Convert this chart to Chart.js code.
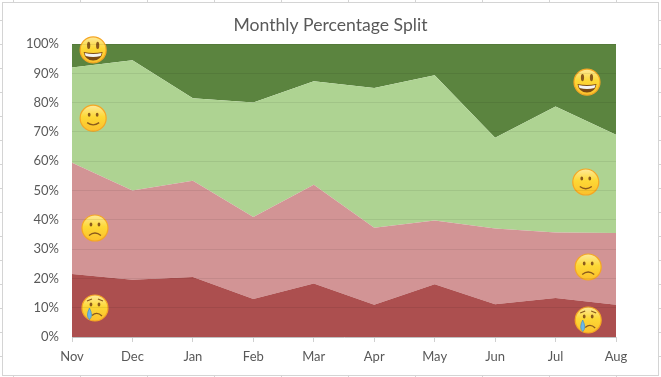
<!DOCTYPE html>
<html>
<head>
<meta charset="utf-8">
<script src="https://cdn.jsdelivr.net/npm/chart.js@4"></script>
<style>
    html, body { margin: 0; padding: 0; width: 661px; height: 377px; overflow: hidden; background: #fff; }
    /* celulas da planilha atras do grafico */
    #planilha {
        position: absolute; left: 0; top: 0; width: 661px; height: 377px;
        background-image:
            repeating-linear-gradient(to right, transparent 0 13px, #d4d4d4 13px 14px, transparent 14px 67px),
            repeating-linear-gradient(to bottom, transparent 0 20px, #d4d4d4 20px 21px, transparent 21px 24px);
    }
    #caixa { position: absolute; left: 2px; top: 2px; width: 655px; height: 372px; background: #fff; border: 1px solid #d4d4d4; }
    canvas { position: absolute; left: 0; top: 0; }
</style>
</head>
<body>
<div id="planilha"></div>
<div id="caixa"></div>
<canvas id="grafico" width="661" height="377"></canvas>
<script>
const meses = ['Nov', 'Dec', 'Jan', 'Feb', 'Mar', 'Apr', 'May', 'Jun', 'Jul', 'Aug'];

const chorando = [21.5, 19.5, 20.5, 13, 18.3, 11, 18, 11.2, 13.3, 11];
const triste = [38, 30.5, 32.8, 28, 33.7, 26.3, 21.8, 25.8, 22.4, 24.5];
const contente = [32.5, 44.5, 28.2, 39, 35.3, 47.7, 49.5, 31, 43, 33.5];
const radiante = [8, 5.5, 18.5, 20, 12.7, 15, 10.7, 32, 21.3, 31];

const emojisEsquerda = [['radiante', 0.35, 98], ['contente', 0.35, 74.7], ['triste', 0.38, 37.2], ['chorando', 0.38, 9.9]];
const emojisDireita = [['radiante', 8.52, 87], ['contente', 8.5, 52.9], ['triste', 8.54, 23.9], ['chorando', 8.54, 5.8]];

function desenharEmoji(ctx, tipo, x, y) {
    const r = 13;
    ctx.save();
    ctx.translate(x, y);

    const gradiente = ctx.createLinearGradient(0, -r, 0, r);
    gradiente.addColorStop(0, '#fde99a');
    gradiente.addColorStop(0.45, '#fdd835');
    gradiente.addColorStop(1, '#fbc02d');
    ctx.fillStyle = gradiente;
    ctx.strokeStyle = '#f5a623';
    ctx.lineWidth = 1.2;
    ctx.beginPath();
    ctx.arc(0, 0, r, 0, Math.PI * 2);
    ctx.fill();
    ctx.stroke();

    ctx.fillStyle = '#8a5a1c';
    ctx.strokeStyle = '#8a5a1c';
    ctx.lineWidth = 1.3;
    if (tipo === 'radiante') {
        ctx.beginPath();
        ctx.ellipse(-4.5, -4.5, 1.6, 3.6, 0, 0, Math.PI * 2);
        ctx.ellipse(4.5, -4.5, 1.6, 3.6, 0, 0, Math.PI * 2);
        ctx.fill();
        // boca aberta com dentes
        ctx.fillStyle = '#7a4a14';
        ctx.beginPath();
        ctx.moveTo(-9.5, 2);
        ctx.quadraticCurveTo(0, 4, 9.5, 2);
        ctx.quadraticCurveTo(8, 10.5, 0, 10.5);
        ctx.quadraticCurveTo(-8, 10.5, -9.5, 2);
        ctx.fill();
        ctx.fillStyle = '#f4f4f4';
        ctx.beginPath();
        ctx.moveTo(-8.5, 3);
        ctx.quadraticCurveTo(0, 5, 8.5, 3);
        ctx.lineTo(7.5, 6);
        ctx.quadraticCurveTo(0, 8, -7.5, 6);
        ctx.closePath();
        ctx.fill();
    } else {
        ctx.beginPath();
        ctx.ellipse(-4, -3.5, 1.4, 2, 0, 0, Math.PI * 2);
        ctx.ellipse(4, -3.5, 1.4, 2, 0, 0, Math.PI * 2);
        ctx.fill();
        ctx.beginPath();
        if (tipo === 'contente') {
            ctx.moveTo(-6, 4.5);
            ctx.quadraticCurveTo(0, 9, 6, 4.5);
        } else if (tipo === 'triste') {
            ctx.moveTo(-6, 7.5);
            ctx.quadraticCurveTo(0, 2.5, 6, 7.5);
        } else {
            ctx.moveTo(-3, 7.5);
            ctx.quadraticCurveTo(2, 3, 7, 8);
        }
        ctx.stroke();
        if (tipo === 'chorando') {
            ctx.beginPath();
            ctx.moveTo(-8, -7);
            ctx.lineTo(-3, -9);
            ctx.moveTo(8, -7);
            ctx.lineTo(3, -9);
            ctx.stroke();
            // lagrima
            ctx.fillStyle = '#6db8e8';
            ctx.strokeStyle = '#3f8fc9';
            ctx.lineWidth = 0.7;
            ctx.beginPath();
            ctx.moveTo(-5.5, 0);
            ctx.quadraticCurveTo(-1.5, 8, -5.5, 11.5);
            ctx.quadraticCurveTo(-9.5, 8, -5.5, 0);
            ctx.fill();
            ctx.stroke();
        }
    }
    ctx.restore();
}

const pluginEmojis = {
    id: 'emojis',
    afterDatasetsDraw(chart) {
        const { ctx, scales } = chart;
        emojisEsquerda.concat(emojisDireita).forEach(e => {
            desenharEmoji(ctx, e[0], scales.x.getPixelForValue(e[1]), scales.y.getPixelForValue(e[2]));
        });
    }
};

function serie(dados, cor, preenchimento) {
    return {
        data: dados,
        backgroundColor: cor,
        borderWidth: 0,
        pointRadius: 0,
        tension: 0,
        fill: preenchimento
    };
}

Chart.defaults.font.family = 'Lato, "Open Sans", sans-serif';

new Chart(document.getElementById('grafico').getContext('2d'), {
    type: 'line',
    data: {
        labels: meses,
        datasets: [
            serie(chorando, '#ac4f4f', 'origin'),
            serie(triste, '#d29495', '-1'),
            serie(contente, '#aed392', '-1'),
            serie(radiante, '#5b843f', '-1')
        ]
    },
    options: {
        responsive: false,
        animation: false,
        plugins: {
            legend: { display: false },
            tooltip: { enabled: false },
            title: {
                display: true,
                text: 'Monthly Percentage Split',
                color: '#595959',
                font: { size: 17.6, weight: 'normal' },
                padding: { top: 15, bottom: 7.9 }
            }
        },
        scales: {
            x: {
                offset: false,
                afterFit(escala) { escala.height = 40; },
                grid: { drawOnChartArea: false, drawTicks: true, tickLength: 5, color: '#d0d0d0' },
                border: { color: '#d0d0d0' },
                ticks: { color: '#595959', font: { size: 13 }, padding: 7, maxRotation: 0, autoSkip: false }
            },
            y: {
                stacked: true,
                min: 0,
                max: 100,
                afterFit(escala) { escala.width = 72; },
                grid: { z: 1, color: 'rgba(0,0,0,0.07)', drawTicks: false },
                border: { display: false },
                ticks: { stepSize: 10, color: '#595959', font: { size: 13 }, padding: 13, callback: v => v + '%' }
            },
            // eixo vazio so para reservar a margem direita sem tirar o titulo do centro
            margemDireita: {
                type: 'linear',
                position: 'right',
                afterFit(escala) { escala.width = 45; },
                grid: { display: false },
                border: { display: false },
                ticks: { display: false }
            }
        }
    },
    plugins: [pluginEmojis]
});
</script>
</body>
</html>
